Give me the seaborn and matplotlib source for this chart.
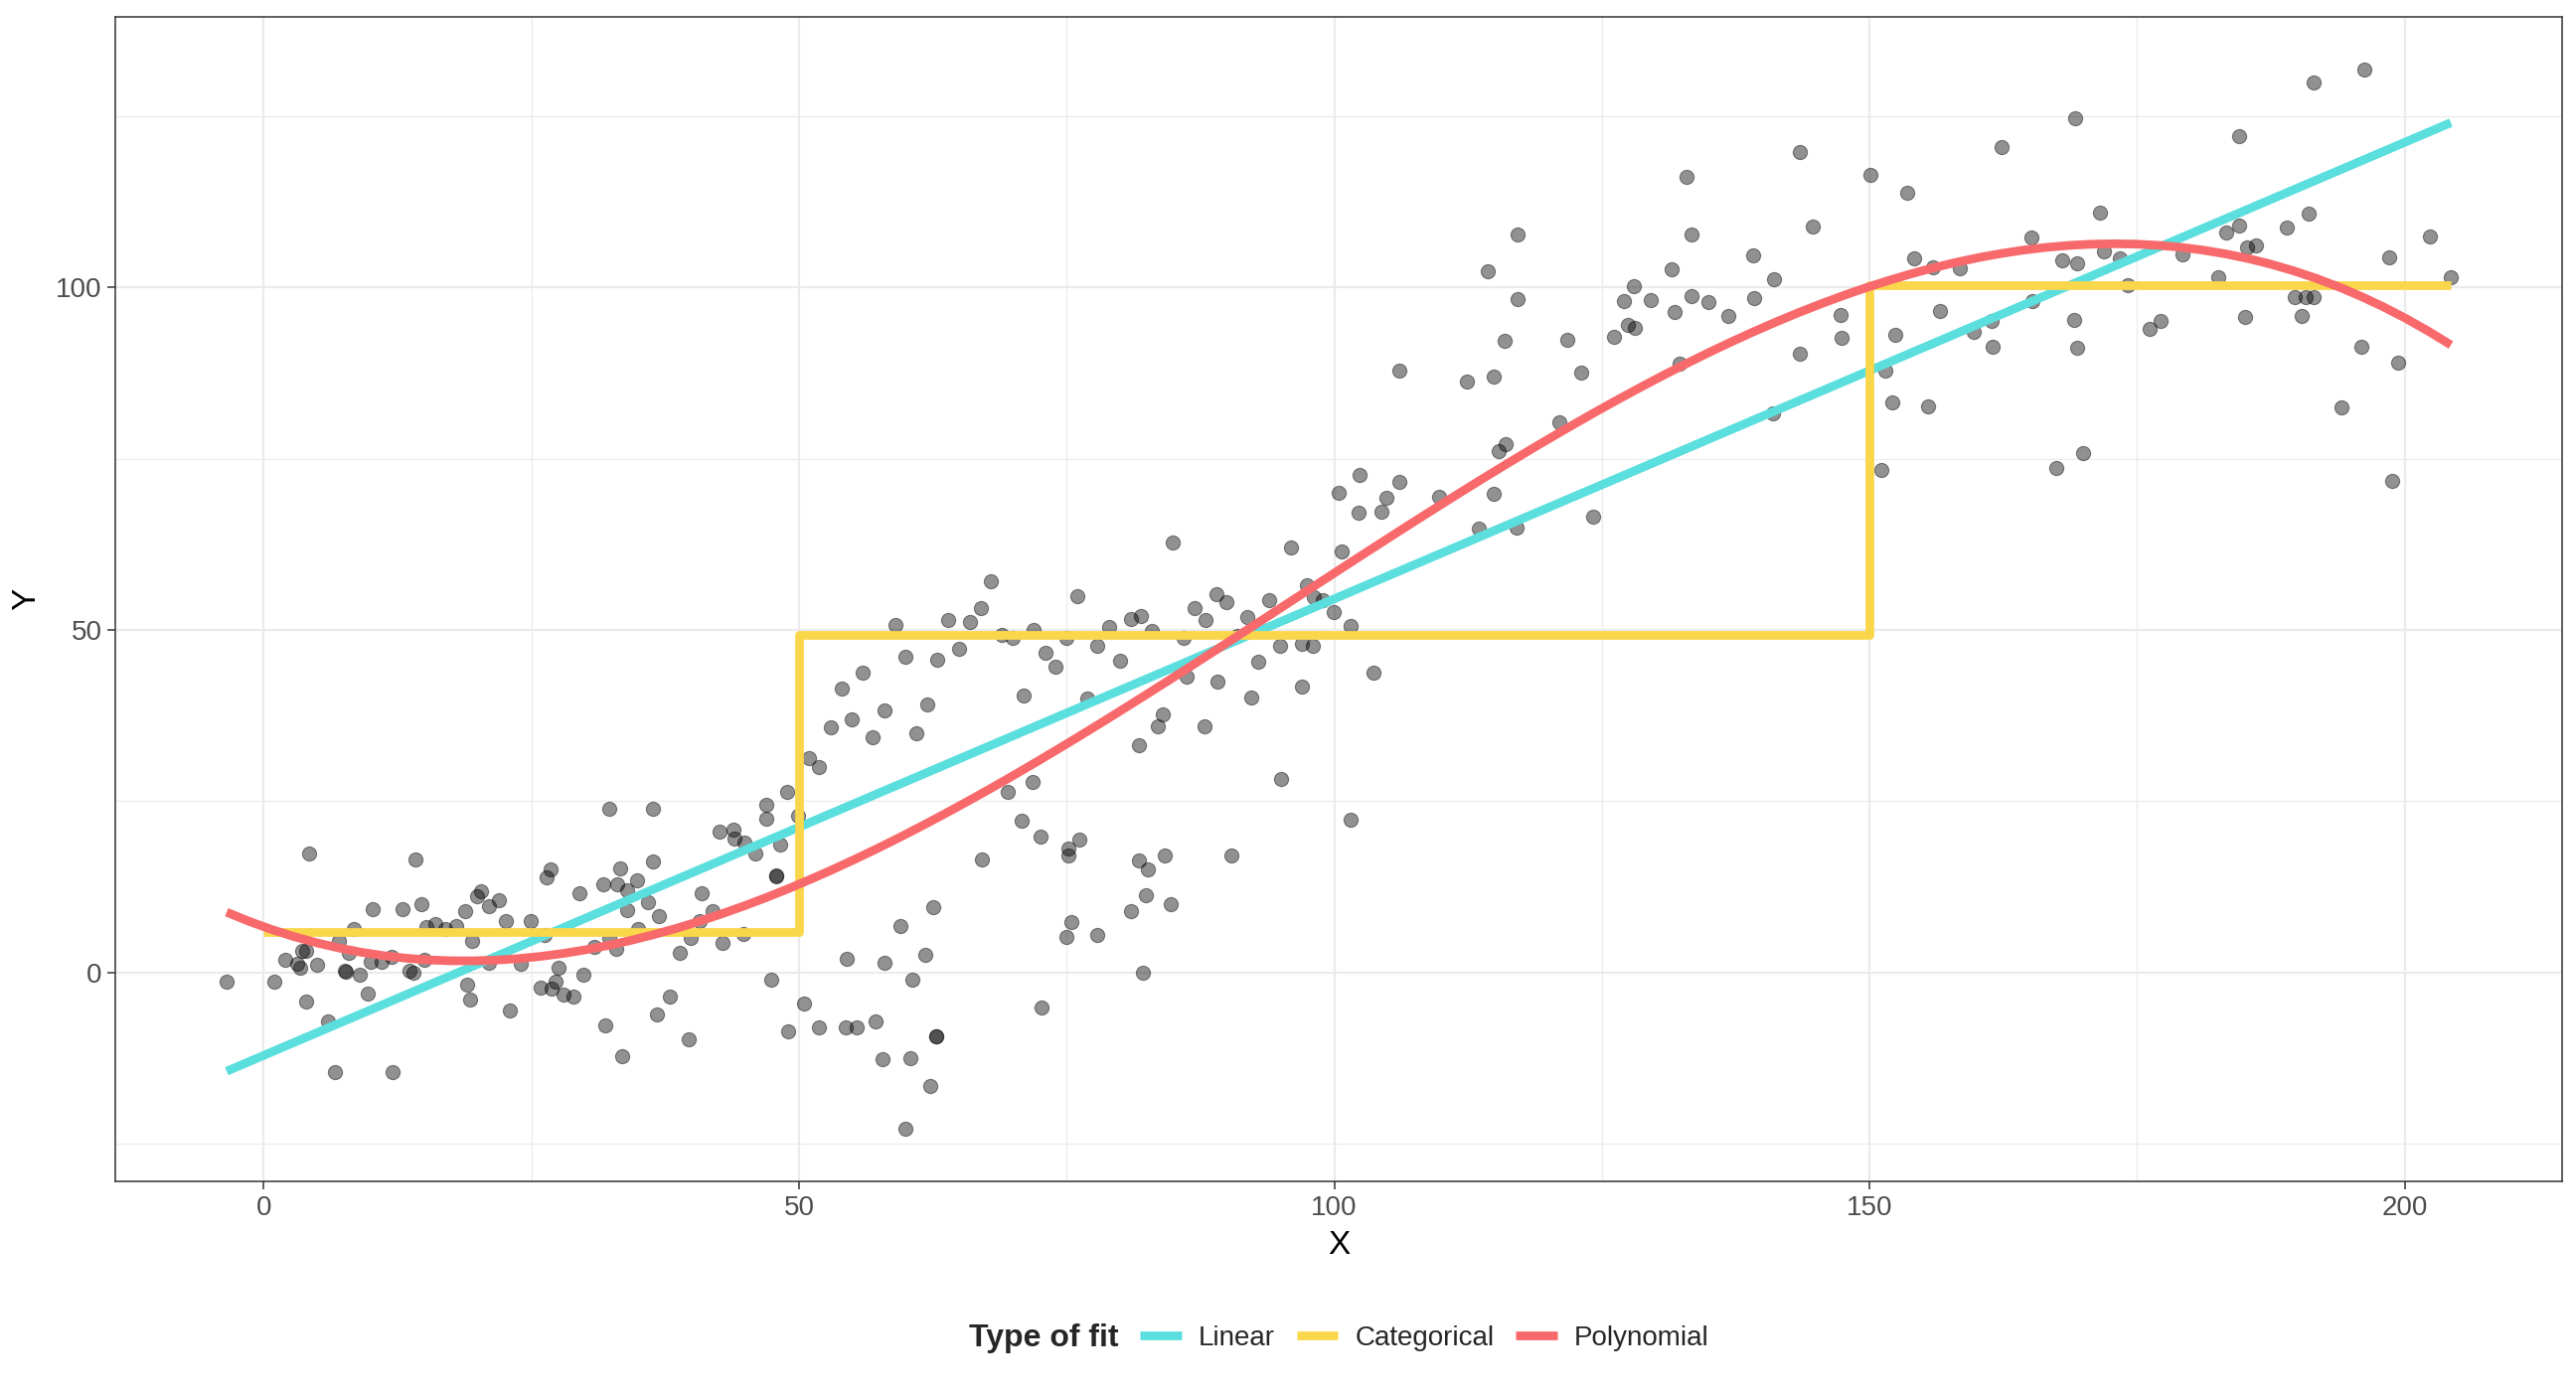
import numpy as np
import pandas as pd
import matplotlib.pyplot as plt
import seaborn as sns
from matplotlib.lines import Line2D
from matplotlib.ticker import MultipleLocator
from matplotlib.offsetbox import HPacker

# scatter values, grouped left to right
x_vals = [
    -3.46, 1.02, 4.2, 2.0, 3.1, 3.4, 3.55, 4.0, 5.0, 4.0, 6.0, 6.7, 7.0, 8.4, 8.0, 7.6, 7.65, 9.0, 9.7, 10.2,
    10.0, 11.0, 11.98, 12.0, 13.0, 14.2, 14.75, 13.6, 14.0, 15.0, 15.2, 16.0, 17.0, 18.0, 18.8, 19.5, 19.0, 19.3,
    19.9, 20.3, 21.0, 22.0, 21.0, 22.6, 23.0, 24.0, 24.9, 26.2, 26.4, 26.8, 25.9, 26.9, 27.3, 27.5, 28.0, 28.95,
    29.5, 29.9, 30.9, 31.7, 31.9, 32.3,
    33.3, 33.0, 33.95, 34.9, 36.4, 36.4, 33.95, 35.9, 36.9, 35.0, 32.3, 32.96, 33.5, 36.7, 37.9, 39.7, 38.9, 39.9,
    40.9, 40.7, 41.9, 42.9, 42.6, 43.9, 44.0, 44.9, 45.9, 44.85, 46.9, 46.9, 48.9, 49.9, 48.2, 47.85, 47.9, 47.4,
    48.95, 50.5, 51.85, 50.9, 51.9, 54.5, 54.4, 55.4, 57.2, 58.0, 57.8, 59.5, 60.6, 60.4, 61.8, 62.5, 62.8, 62.85,
    62.3, 59.9, 67.1, 69.5, 70.8,
    52.97, 53.97, 54.96, 55.95, 56.9, 57.96, 58.98, 59.97, 61.0, 61.96, 62.95, 63.94, 64.96, 65.95, 66.97, 67.97,
    68.99, 69.98, 70.97, 71.8, 71.96, 72.99, 73.98, 75.0, 75.96, 76.9, 77.9, 78.96, 79.95, 80.97, 81.96, 81.8,
    82.99, 83.5, 83.98, 85.97, 86.2, 86.99, 87.98, 87.9, 88.97, 89.1, 89.96, 84.9,
    72.6, 75.15, 75.2, 76.2, 75.4, 75.0, 77.85, 72.7, 81.0, 82.4, 84.7, 81.75, 82.55, 84.2, 82.15, 90.36, 95.0, 101.5,
    90.9, 91.9, 93.96, 92.9, 94.95, 96.97, 97.96, 92.2, 96.97, 95.97, 97.4, 98.1, 98.9, 99.97, 100.65, 101.5,
    100.46, 102.4, 102.26, 103.65, 104.4, 104.9, 106.1, 109.8, 113.5, 114.86, 115.4, 116.0, 117.0, 121.05, 124.2,
    106.1, 112.4, 114.3, 114.9, 115.9, 117.1, 117.1, 121.75, 123.05, 126.1, 127.07, 127.4, 128.1, 128.03, 129.6,
    131.5, 131.8, 132.3, 132.9, 133.4, 133.4, 134.96, 136.8, 139.1, 139.2, 141.06, 140.96, 143.5, 144.65, 143.5,
    147.3, 147.4, 150.1,
    151.1, 151.5, 152.1, 152.4, 153.5, 154.2, 155.9, 155.5, 156.6, 158.4, 159.7, 161.4, 161.5, 162.3, 165.1, 165.2,
    167.4, 168.0, 169.4, 169.1, 169.4, 169.2, 169.97, 171.55, 171.9, 173.4, 174.1, 176.2, 177.2, 179.2, 182.6,
    183.35, 184.5, 184.5,
    185.05, 185.3, 186.1, 189.0, 189.7, 190.7, 191.5, 190.4, 191.0, 191.5, 194.1, 195.9, 196.2, 198.5, 198.8,
    199.4, 202.3, 204.3,
]
y_vals = [
    -1.3, -1.3, 17.4, 1.8, 1.25, 0.7, 3.2, 3.1, 1.1, -4.2, -7.2, -14.6, 4.6, 6.3, 2.9, 0.24, 0.1, -0.3, -3.1, 9.3,
    1.5, 1.5, 2.2, -14.6, 9.2, 16.5, 9.9, 0.3, -0.05, 1.9, 6.6, 7.0, 6.4, 6.8, 8.9, 4.6, -1.8, -3.9,
    11.1, 11.9, 9.6, 10.5, 1.35, 7.5, -5.6, 1.2, 7.5, 5.5, 13.85, 15.05, -2.2, -2.4, -1.4, 0.7, -3.2, -3.6,
    11.5, -0.3, 3.7, 12.8, -7.8, 23.9,
    15.25, 12.9, 12.0, 13.5, 23.9, 16.2, 9.1, 10.3, 8.15, 6.3, 5.0, 3.5, -12.3, -6.1, -3.6, -9.8, 2.8, 5.0,
    11.5, 7.5, 8.9, 4.3, 20.5, 20.8, 19.5, 18.9, 17.4, 5.6, 24.4, 22.5, 26.35, 22.9, 18.7, 14.0, 14.1, -1.1,
    -8.6, -4.6, -8.0, 31.3, 30.0, 2.0, -8.1, -8.1, -7.2, 1.35, -12.7, 6.7, -1.1, -12.6, 2.5, 9.55, -9.3, -9.4,
    -16.6, -22.8, 16.55, 26.35, 22.1,
    35.8, 41.5, 36.9, 43.8, 34.4, 38.2, 50.7, 46.1, 34.9, 39.1, 45.6, 51.5, 47.2, 51.2, 53.2, 57.1,
    49.3, 48.9, 40.5, 27.75, 49.95, 46.7, 44.7, 48.8, 54.9, 40.0, 47.7, 50.5, 45.5, 51.6, 52.0, 33.2,
    49.9, 36.0, 37.6, 48.9, 43.2, 53.2, 51.4, 35.9, 55.2, 42.5, 54.1, 62.8,
    19.8, 18.1, 17.1, 19.35, 7.3, 5.2, 5.4, -5.2, 8.9, 11.2, 10.0, 16.3, 15.0, 17.1, -0.1, 17.0, 28.3, 22.3,
    49.2, 51.9, 54.3, 45.3, 47.7, 48.0, 47.7, 40.1, 41.8, 62.1, 56.6, 54.8, 54.3, 52.55, 61.4, 50.6,
    70.0, 72.7, 67.1, 43.7, 67.2, 69.3, 71.6, 69.5, 64.8, 69.9, 76.1, 77.2, 65.0, 80.3, 66.5,
    87.9, 86.3, 102.4, 87.0, 92.2, 107.7, 98.3, 92.4, 87.6, 92.8, 98.1, 94.5, 94.1, 100.2, 98.2,
    102.7, 96.4, 88.9, 116.1, 107.8, 98.7, 97.9, 95.9, 104.7, 98.5, 101.2, 81.6, 119.75, 108.9, 90.3,
    96.0, 92.7, 116.4,
    73.4, 87.9, 83.3, 93.1, 113.9, 104.2, 103.0, 82.7, 96.65, 102.8, 93.5, 95.1, 91.4, 120.5, 107.3, 98.1,
    73.6, 104.0, 103.5, 95.3, 91.2, 124.7, 75.9, 111.0, 105.3, 104.3, 100.4, 94.0, 95.2, 104.9, 101.5,
    108.0, 109.0, 122.1,
    95.7, 105.9, 106.1, 108.7, 98.6, 98.6, 98.6, 95.9, 110.8, 130.0, 82.5, 91.3, 131.8, 104.4, 71.7,
    89.0, 107.5, 101.5,
]
assert len(x_vals) == len(y_vals)

# breakpoints of the categorical (step) fit
cut_points = [0, 50, 150]
fit_names = ['Linear', 'Categorical', 'Polynomial']
fit_colors = ['#5BDEDE', '#FAD64A', '#F8696B']

sns.set_theme(style='whitegrid')
plt.rcParams['font.family'] = ['Liberation Sans', 'DejaVu Sans']

df = pd.DataFrame({'X': x_vals, 'Y': y_vals})

fig = plt.figure(figsize=(25.92, 14.04), dpi=100)
ax = fig.add_axes([0.0448, 0.1531, 0.9498, 0.8348])

sns.scatterplot(data=df, x='X', y='Y', ax=ax, color='black', edgecolor='black',
                alpha=0.43, s=105, linewidth=0.8, zorder=2)

lw = 6.3
sns.regplot(data=df, x='X', y='Y', ax=ax, scatter=False, ci=None, order=1,
            color=fit_colors[0], line_kws={'linewidth': lw, 'zorder': 3, 'solid_capstyle': 'butt'})

# categorical fit: mean of Y in each x band
bands = pd.cut(df['X'], bins=[-np.inf] + cut_points[1:] + [np.inf], right=False)
band_means = df.groupby(bands, observed=False)['Y'].mean().tolist()
step_x = cut_points + [df['X'].max()]
step_y = band_means + [band_means[-1]]
sns.lineplot(x=step_x, y=step_y, ax=ax, drawstyle='steps-post', estimator=None, sort=False,
             color=fit_colors[1], linewidth=lw, zorder=4, solid_capstyle='butt')

sns.regplot(data=df, x='X', y='Y', ax=ax, scatter=False, ci=None, order=3,
            color=fit_colors[2], line_kws={'linewidth': lw, 'zorder': 5, 'solid_capstyle': 'butt'})

# ggplot-style 5% expansion
xr = df['X'].max() - df['X'].min()
yr = df['Y'].max() - df['Y'].min()
ax.set_xlim(df['X'].min() - 0.05 * xr, df['X'].max() + 0.05 * xr)
ax.set_ylim(df['Y'].min() - 0.05 * yr, df['Y'].max() + 0.05 * yr)

ax.set_xticks([0, 50, 100, 150, 200])
ax.set_yticks([0, 50, 100])
ax.xaxis.set_minor_locator(MultipleLocator(25))
ax.yaxis.set_minor_locator(MultipleLocator(25))
ax.grid(which='major', color='#EBEBEB', linewidth=1.6)
ax.grid(which='minor', color='#EBEBEB', linewidth=0.9)
ax.set_axisbelow(True)
ax.tick_params(which='major', length=5.8, width=1.1, color='#333333', labelsize=20,
               labelcolor='#4D4D4D', pad=4, bottom=True, left=True)
ax.tick_params(which='minor', length=0)
for sp in ax.spines.values():
    sp.set_color('#333333')
    sp.set_linewidth(1.1)

ax.set_xlabel('X', fontsize=24, color='black', labelpad=7)
ax.set_ylabel('Y', fontsize=24, color='black', labelpad=10)

handles = [Line2D([], [], color=c, linewidth=lw, solid_capstyle='butt') for c in fit_colors]
leg = fig.legend(handles, fit_names, loc='center', bbox_to_anchor=(0.5197, 0.0406), ncol=3,
                 frameon=False, fontsize=20, handlelength=1.5, handletextpad=0.6,
                 columnspacing=0.8, title='Type of fit',
                 title_fontproperties={'weight': 'bold', 'size': 23})
# put the legend title on the same row as the keys
leg._legend_box._children = [HPacker(pad=0, sep=16, align='center',
                                     children=[leg._legend_title_box, leg._legend_handle_box])]

fig.savefig('out.png', dpi=100)
